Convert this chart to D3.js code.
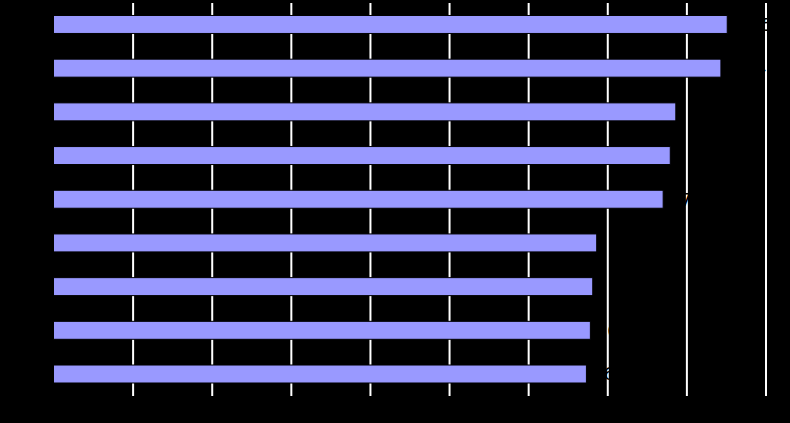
<!DOCTYPE html>
<html>
<head>
<meta charset="utf-8">
<script src="https://cdn.jsdelivr.net/npm/d3@7"></script>
<style>
  html, body { margin: 0; padding: 0; background: #000; }
  svg { display: block; }
</style>
</head>
<body>
<svg id="chart" width="790" height="423"></svg>
<script>
const categories = ["1", "2", "3", "4", "5", "6", "7", "8", "9"];
const values = [8.51, 8.43, 7.86, 7.79, 7.70, 6.86, 6.81, 6.78, 6.73];
const tickValues = [1, 2, 3, 4, 5, 6, 7, 8, 9];

const svg = d3.select("#chart");
svg.append("rect").attr("width", 790).attr("height", 423).attr("fill", "#000");

const x = d3.scaleLinear().domain([0, 9]).range([54, 766]);
// step 43.75, band 18, first band at 15.5
const y = d3.scaleBand().domain(categories).range([2.375, 396.1]).paddingInner(0.5886).paddingOuter(0.3);

// gridlines
svg.append("g").selectAll("line").data(tickValues).join("line")
  .attr("x1", d => x(d)).attr("x2", d => x(d))
  .attr("y1", 3).attr("y2", 396)
  .attr("stroke", "#fff").attr("stroke-width", 2);

// bottom axis (black labels on black background)
const xAxis = svg.append("g").attr("transform", "translate(0,396)")
  .call(d3.axisBottom(x).tickValues([0].concat(tickValues)).tickSize(0).tickPadding(8));
xAxis.select(".domain").remove();
xAxis.selectAll("text").attr("fill", "#000").style("font-family", "DejaVu Sans").style("font-size", "12px");

// left axis (black labels)
const yAxis = svg.append("g").attr("transform", "translate(54,0)")
  .call(d3.axisLeft(y).tickSize(0).tickPadding(8));
yAxis.select(".domain").remove();
yAxis.selectAll("text").attr("fill", "#000").style("font-family", "DejaVu Sans").style("font-size", "12px");

const data = categories.map((c, i) => ({ c, v: values[i] }));

// bars
svg.append("g").selectAll("rect").data(data).join("rect")
  .attr("x", x(0) - 0.5)
  .attr("y", d => y(d.c))
  .attr("width", d => x(d.v) - x(0) + 0.5)
  .attr("height", y.bandwidth())
  .attr("fill", "#9999ff")
  .attr("stroke", "#000")
  .attr("stroke-width", 1);

// value labels (black)
svg.append("g").selectAll("text").data(data).join("text")
  .attr("x", d => x(d.v) + 17)
  .attr("y", d => y(d.c) + y.bandwidth() / 2)
  .attr("dy", "0.35em")
  .attr("fill", "#000")
  .style("font-family", "DejaVu Sans")
  .style("font-size", "18px")
  .text(d => d.v.toFixed(2));
</script>
</body>
</html>
